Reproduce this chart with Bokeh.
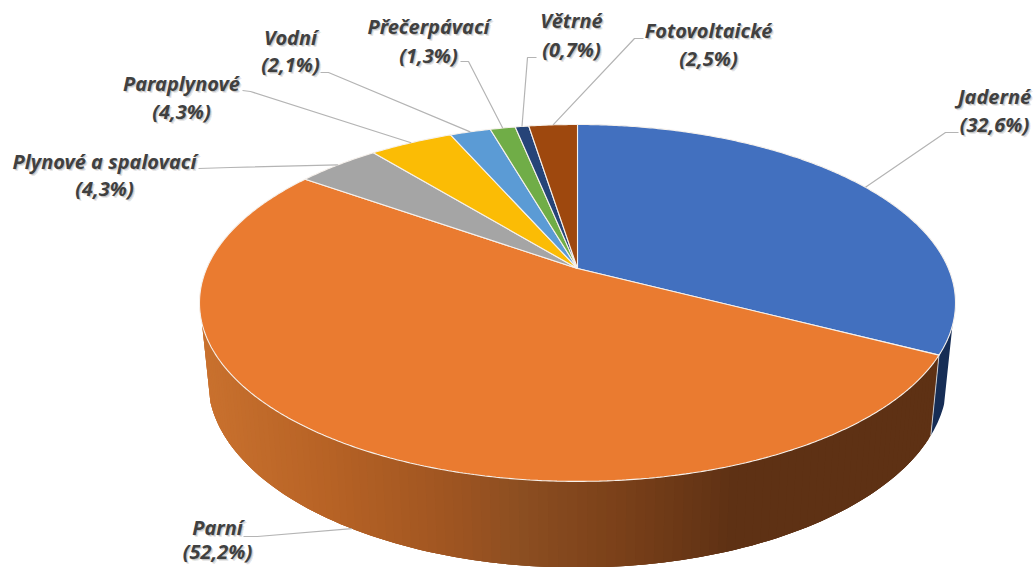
import numpy as np
from bokeh.core.properties import value
from bokeh.embed import file_html
from bokeh.models import ColumnDataSource
from bokeh.plotting import figure
from bokeh.resources import INLINE

# Share of installed capacity by source type, in percent, clockwise from twelve o'clock
categories = ["Jaderné", "Parní", "Plynové a spalovací", "Paraplynové",
              "Vodní", "Přečerpávací", "Větrné", "Fotovoltaické"]
shares = [32.6, 52.2, 4.3, 4.3, 2.1, 1.3, 0.7, 2.5]
slice_colors = ["#4270BF", "#EA7B30", "#A5A5A5", "#FBBC05",
                "#5B9BD5", "#70AD47", "#264478", "#9E480E"]

# Projection of the pie disc: apex, axes and foreshortening on screen
APEX_X, APEX_Y = 577.0, 268.0
AXIS_X, AXIS_Y, TILT = 370.9, 171.8, 0.193
FLOOR_Y, FLOOR_AXIS_X, FLOOR_AXIS_Y = 344.0, 362.6, 180.0

# Label centres and leader elbows, in screen pixels
label_x = [994, 217, 104, 181, 290, 428, 571, 708]
name_y = [96, 527, 161, 83, 37, 26, 20, 30]
pct_y = [124, 551, 188, 111, 64, 55, 49, 58]
leader_start_x = [958, 243, 198, 242, 320, 460, 536, 643]
leader_start_y = [132, 536, 168, 90, 72, 61, 57, 38]
leader_elbow_x = [945, 257, 230, 250, 328, 468, 527, 634]
leader_elbow_y = [132, 536, 167, 91, 72, 61, 57, 38]


def top_rim(theta):
    u, v = np.sin(theta), np.cos(theta)
    w = 1 + TILT * v
    return APEX_X + AXIS_X * u / w, APEX_Y - AXIS_Y * v / w


def floor_rim(theta):
    u, v = np.sin(theta), np.cos(theta)
    w = 1 + TILT * v
    return APEX_X + FLOOR_AXIS_X * u / w, FLOOR_Y - FLOOR_AXIS_Y * v / w


def wall_bands(start, end, steps, overlap=3):
    # Each band reaches past its neighbours so that no seams show between them
    edges = np.linspace(start, end, steps + 1)
    xs, ys, left = [], [], []
    for i in range(steps):
        arc = edges[i:min(i + 1 + overlap, steps + 1)]
        tx, ty = top_rim(arc)
        fx, fy = floor_rim(arc)
        xs.append([*tx, *fx[::-1]])
        ys.append([*ty, *fy[::-1]])
        cx, _ = top_rim(edges[i:i + 2])
        left.append(float(np.mean(cx)))
    return xs, ys, left


def shade(x):
    # Horizontal shading of the orange wall, light on the left and dark towards the right
    stops_x = [200, 330, 445, 520, 620, 735, 1000]
    stops_rgb = np.array([(201, 113, 46), (182, 98, 37), (160, 85, 33), (140, 78, 33),
                          (122, 64, 25), (94, 49, 20), (94, 49, 20)], dtype=float)
    rgb = [np.interp(x, stops_x, stops_rgb[:, c]) for c in range(3)]
    return "#%02x%02x%02x" % tuple(int(round(c)) for c in rgb)


fractions = np.cumsum([0.0] + shares) / sum(shares)
angles = fractions * 2 * np.pi

p = figure(width=1035, height=567, x_range=(0, 1035), y_range=(567, 0),
           output_backend="svg", toolbar_location=None, min_border=0,
           background_fill_color="white", border_fill_color="white", outline_line_color=None)
p.axis.visible = False
p.grid.visible = False

# Side wall: the navy sliver of the first slice, then the shaded orange band
first_end = angles[1]
blue_start = np.radians(108.2)
bx, by, _ = wall_bands(blue_start, first_end, 12, overlap=12)
p.patches(bx[:1], by[:1], fill_color="#162d55", line_color=None)

orange_end = np.radians(252.5)
ox, oy, centres = wall_bands(first_end, orange_end, 110)
band_colors = [shade(c) for c in centres]
p.patches(ox, oy, fill_color=band_colors, line_color=None)

sep_top = top_rim(first_end)
sep_floor = floor_rim(first_end)
p.line([sep_top[0], sep_floor[0]], [sep_top[1], sep_floor[1]],
       line_color="#dfe3ea", line_width=1, line_alpha=0.8)

# Top face of the pie
top_xs, top_ys = [], []
for a0, a1 in zip(angles[:-1], angles[1:]):
    theta = np.linspace(a0, a1, max(6, int((a1 - a0) * 120)))
    x, y = top_rim(theta)
    top_xs.append([APEX_X, *x])
    top_ys.append([APEX_Y, *y])
p.patches(top_xs, top_ys, fill_color=slice_colors, line_color="#f6f1ec", line_width=1.1)

# Leaders run from the label to the rim at each slice's mid angle
mid = (angles[:-1] + angles[1:]) / 2
for i, theta in enumerate(mid):
    ex, ey = floor_rim(theta) if i == 1 else top_rim(theta)
    p.line([leader_start_x[i], leader_elbow_x[i], ex], [leader_start_y[i], leader_elbow_y[i], ey],
           line_color="#b4b4b4", line_width=1.2)

pct_labels = ["(" + f"{s:.1f}".replace(".", ",") + "%)" for s in shares]
labels = ColumnDataSource(dict(
    x=label_x * 2,
    y=name_y + pct_y,
    text=categories + pct_labels,
))

FONT = value("Noto Sans")
SIZE = "20px"

# Soft drop shadow under the labels, then the labels themselves
for dx, dy, alpha in [(2.0, 2.0, 0.10), (1.0, 1.0, 0.16)]:
    shadow = ColumnDataSource(dict(x=[v + dx for v in labels.data["x"]],
                                   y=[v + dy for v in labels.data["y"]],
                                   text=labels.data["text"]))
    p.text("x", "y", "text", source=shadow, text_font=FONT,
           text_font_style="bold italic", text_font_size=SIZE, text_color="#000000",
           text_alpha=alpha, text_align="center", text_baseline="middle")
p.text("x", "y", "text", source=labels, text_font=FONT,
       text_font_style="bold italic", text_font_size=SIZE, text_color="#404040",
       text_align="center", text_baseline="middle")

open("out.html", "w").write(file_html(p, INLINE))
